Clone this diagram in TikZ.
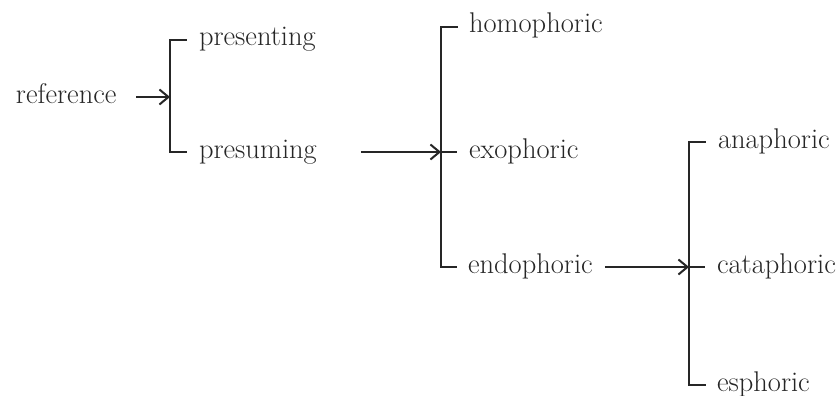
\documentclass[tikz,border=0pt]{standalone}
\usepackage{tikz}
\usetikzlibrary{arrows.meta}

\begin{document}
\begin{tikzpicture}[x=1pt,y=-1pt,line width=2pt,line join=miter,black!85,
  term/.style={anchor=west,inner sep=0pt,text height=12pt,text depth=0pt,
    font=\fontsize{28.5}{34}\selectfont},
  brk/.style={draw,line cap=rect},
  arr/.style={->,>={Straight Barb[length=9pt,width=15pt,line width=2pt]}}]
\useasboundingbox (0,0) rectangle (838,396);
% terms
\node[term] (reference) at (15,97) {reference};
\node[term] (presenting) at (198,40) {presenting};
\node[term] (presuming) at (198,152) {presuming};
\node[term] (homophoric) at (468,27) {homophoric};
\node[term] (exophoric) at (468,152) {exophoric};
\node[term] (endophoric) at (467,267) {endophoric};
\node[term] (anaphoric) at (717,142) {anaphoric};
\node[term] (cataphoric) at (716,267) {cataphoric};
\node[term] (esphoric) at (716,385) {esphoric};
% brackets
\coordinate (b1) at (170,97);
\coordinate (b2) at (441,152);
\coordinate (b3) at (689,267);
\draw[brk] ([xshift=-12pt]presenting.west) -| (b1) |- ([xshift=-12pt]presuming.west);
\draw[brk] ([xshift=-11pt]homophoric.west) -| (b2) |- ([xshift=-11pt]endophoric.west);
\draw (b2) -- ([xshift=-11pt]exophoric.west);
\draw[brk] ([xshift=-12pt]anaphoric.west) -| (b3) |- ([xshift=-11pt]esphoric.west);
\draw (b3) -- ([xshift=-11pt]cataphoric.west);
% arrows
\draw[arr] ([xshift=19pt]reference.east) -- (b1);
\draw[arr] ([xshift=43pt]presuming.east) -- (b2);
\draw[arr] ([xshift=11pt]endophoric.east) -- (b3);
\end{tikzpicture}
\end{document}
